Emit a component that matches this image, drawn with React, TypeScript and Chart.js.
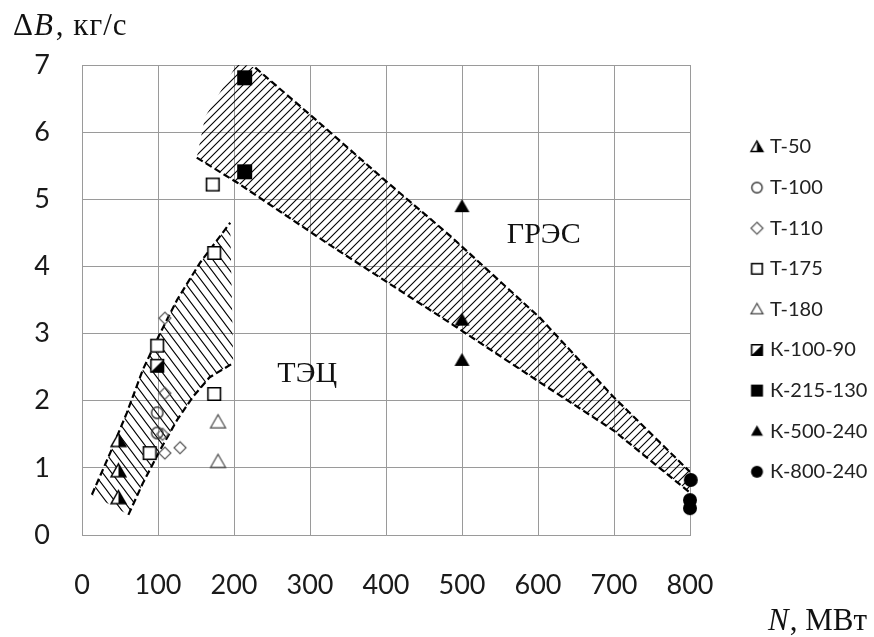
import React, { useEffect, useRef } from 'react';
import { Chart, registerables } from 'chart.js';

Chart.register(...registerables);

// ---- Series (N, МВт ; ΔB, кг/с) ----
const seriesNames = ['Т-50', 'Т-100', 'Т-110', 'Т-175', 'Т-180', 'К-100-90', 'К-215-130', 'К-500-240', 'К-800-240'];
const t50N = [48, 48, 48];
const t50B = [1.4, 0.95, 0.55];
const t100N = [99, 99];
const t100B = [1.82, 1.52];
const t110N = [109, 109, 106, 109, 129];
const t110B = [3.23, 2.11, 1.5, 1.22, 1.3];
const t175N = [172, 174, 174, 99, 89];
const t175B = [5.22, 4.2, 2.1, 2.82, 1.22];
const t180N = [179, 179];
const t180B = [1.68, 1.09];
const k100N = [99];
const k100B = [2.52];
const k215N = [214, 214];
const k215B = [6.81, 5.41];
const k500N = [500, 500, 500];
const k500B = [4.89, 3.2, 2.6];
const k800N = [801, 800, 800];
const k800B = [0.82, 0.52, 0.4];

// ---- Hatched zones ----
const tecOuterN = [13, 37, 59, 80, 103, 125, 155, 195];
const tecOuterB = [0.6, 1.22, 1.82, 2.46, 3.01, 3.5, 4.05, 4.65];
const tecInnerN = [61, 80, 103, 125, 146, 168, 199];
const tecInnerB = [0.3, 0.77, 1.27, 1.71, 2.06, 2.35, 2.56];
const gresLeftN = [151, 162, 205];
const gresLeftB = [5.62, 6.23, 7.03];
const gresUpperN = [228, 300, 401, 484, 603, 699, 800];
const gresUpperB = [6.96, 6.26, 5.26, 4.46, 3.23, 2.06, 0.94];
const gresLowerN = [151, 204, 326, 484, 603, 699, 800];
const gresLowerB = [5.62, 5.25, 4.32, 3.16, 2.27, 1.56, 0.63];

// ---- Labels ----
const gresLabel = 'ГРЭС';
const gresLabelN = 559;
const gresLabelB = 4.35;
const tecLabel = 'ТЭЦ';
const tecLabelN = 257;
const tecLabelB = 2.28;
const xTickStep = 100;
const yTickStep = 1;

const markerKinds = ['triHalf', 'circleOpen', 'diamond', 'squareOpen', 'triOpen', 'squareHalf', 'squareFill', 'triFill', 'circleFill'];
const markerSizes = [15, 13, 12, 14, 15, 14, 15, 15, 14];

const pts = (xs: number[], ys: number[]) => xs.map((x, i) => ({ x, y: ys[i] }));

function paintMarker(ctx: CanvasRenderingContext2D, kind: string, cx: number, cy: number, s: number) {
  const h = s / 2;
  ctx.lineJoin = 'miter';
  ctx.lineWidth = 1.4;
  ctx.strokeStyle = '#000';
  ctx.fillStyle = '#000';
  const triTop = cy - h;
  const triBot = cy + h * 0.74;
  const tri = () => {
    ctx.beginPath();
    ctx.moveTo(cx, triTop);
    ctx.lineTo(cx + h, triBot);
    ctx.lineTo(cx - h, triBot);
    ctx.closePath();
  };
  const sq = () => {
    ctx.beginPath();
    ctx.rect(cx - h + 0.7, cy - h + 0.7, s - 1.4, s - 1.4);
  };
  switch (kind) {
    case 'triHalf':
      tri();
      ctx.fillStyle = '#fff';
      ctx.fill();
      ctx.beginPath();
      ctx.moveTo(cx, triTop);
      ctx.lineTo(cx + h, triBot);
      ctx.lineTo(cx, triBot);
      ctx.closePath();
      ctx.fillStyle = '#000';
      ctx.fill();
      tri();
      ctx.stroke();
      break;
    case 'circleOpen':
      ctx.beginPath();
      ctx.arc(cx, cy, h - 0.8, 0, Math.PI * 2);
      ctx.strokeStyle = '#333';
      ctx.stroke();
      break;
    case 'diamond':
      ctx.beginPath();
      ctx.moveTo(cx, cy - h);
      ctx.lineTo(cx + h, cy);
      ctx.lineTo(cx, cy + h);
      ctx.lineTo(cx - h, cy);
      ctx.closePath();
      ctx.strokeStyle = '#555';
      ctx.lineWidth = 1.2;
      ctx.stroke();
      break;
    case 'squareOpen':
      sq();
      ctx.fillStyle = '#fff';
      ctx.fill();
      ctx.lineWidth = 1.6;
      ctx.stroke();
      break;
    case 'triOpen':
      tri();
      ctx.strokeStyle = '#444';
      ctx.lineWidth = 1.2;
      ctx.stroke();
      break;
    case 'squareHalf':
      sq();
      ctx.fillStyle = '#fff';
      ctx.fill();
      ctx.beginPath();
      ctx.moveTo(cx + h - 0.7, cy - h + 0.7);
      ctx.lineTo(cx + h - 0.7, cy + h - 0.7);
      ctx.lineTo(cx - h + 0.7, cy + h - 0.7);
      ctx.closePath();
      ctx.fillStyle = '#000';
      ctx.fill();
      sq();
      ctx.lineWidth = 1.6;
      ctx.stroke();
      break;
    case 'squareFill':
      ctx.fillRect(cx - h, cy - h, s, s);
      break;
    case 'triFill':
      tri();
      ctx.fill();
      break;
    case 'circleFill':
      ctx.beginPath();
      ctx.arc(cx, cy, h, 0, Math.PI * 2);
      ctx.fill();
      break;
  }
}

function makeMarker(kind: string, s: number, width?: number, offset = 0) {
  const c = document.createElement('canvas');
  const W = width ?? s + 4;
  const H = s + 4;
  c.width = W;
  c.height = H;
  const g = c.getContext('2d')!;
  paintMarker(g, kind, W / 2 + offset, H / 2, s);
  return c;
}

function makeHatch(ctx: CanvasRenderingContext2D, w: number, h: number, dir: string) {
  const c = document.createElement('canvas');
  c.width = w;
  c.height = h;
  const g = c.getContext('2d')!;
  g.strokeStyle = '#000';
  g.lineWidth = 1.1;
  g.beginPath();
  for (let k = -1; k <= 1; k++) {
    if (dir === '/') {
      g.moveTo(k * w - w, h + h);
      g.lineTo(k * w + 2 * w, h - 2 * h);
    } else {
      g.moveTo(k * w - w, -h);
      g.lineTo(k * w + 2 * w, 2 * h);
    }
  }
  g.stroke();
  return ctx.createPattern(c, 'repeat');
}

export default function App() {
  const ref = useRef<HTMLCanvasElement | null>(null);

  useEffect(() => {
    document.body.style.margin = '0';
    document.body.style.overflow = 'hidden';
    const canvas = ref.current!;
    const ctx = canvas.getContext('2d')!;

    const tecPattern = makeHatch(ctx, 9, 12, '\\');
    const gresPattern = makeHatch(ctx, 8, 8, '/');

    const seriesN = [t50N, t100N, t110N, t175N, t180N, k100N, k215N, k500N, k800N];
    const seriesB = [t50B, t100B, t110B, t175B, t180B, k100B, k215B, k500B, k800B];

    const pointSets = seriesNames.map((name, i) => ({
      label: name,
      data: pts(seriesN[i], seriesB[i]),
      pointStyle: makeMarker(markerKinds[i], markerSizes[i]),
      pointRadius: 8,
      pointHoverRadius: 8,
      showLine: false,
      clip: false as any,
      order: 0,
    }));

    const legendImgs = markerKinds.map((k) => makeMarker(k, 12, 64, 21.7));

    const tecPoly = [...pts(tecOuterN, tecOuterB), ...pts(tecInnerN, tecInnerB).reverse()];
    const gresPoly = [
      ...pts(gresLeftN, gresLeftB),
      ...pts(gresUpperN, gresUpperB),
      ...pts(gresLowerN, gresLowerB).reverse(),
    ];

    const band = (label: string, data: any[], pattern: any) => ({
      label,
      data,
      showLine: true,
      fill: 'shape',
      backgroundColor: pattern,
      borderColor: 'rgba(0,0,0,0)',
      borderWidth: 0,
      pointRadius: 0,
      pointHoverRadius: 0,
      tension: 0,
      order: 10,
    });
    const edge = (label: string, data: any[]) => ({
      label,
      data,
      showLine: true,
      fill: false,
      borderColor: '#000',
      borderWidth: 2.2,
      borderDash: [7, 3.5],
      pointRadius: 0,
      pointHoverRadius: 0,
      tension: 0,
      order: 5,
    });

    const textPlugin = {
      id: 'texts',
      afterDraw(chart: any) {
        const c = chart.ctx as CanvasRenderingContext2D;
        const x = chart.scales.x;
        const y = chart.scales.y;
        const serif = '"Liberation Serif", "Times New Roman", serif';
        c.save();
        c.fillStyle = '#111';
        c.textAlign = 'left';
        c.textBaseline = 'alphabetic';
        c.font = `30px ${serif}`;
        c.fillText(gresLabel, x.getPixelForValue(gresLabelN), y.getPixelForValue(gresLabelB));
        c.fillText(tecLabel, x.getPixelForValue(tecLabelN), y.getPixelForValue(tecLabelB));

        // y-axis title
        let px = 13;
        const yb = 35;
        c.font = `31px ${serif}`;
        c.fillText('Δ', px, yb);
        px += c.measureText('Δ').width + 1;
        c.font = `italic 31px ${serif}`;
        c.fillText('B', px, yb);
        px += c.measureText('B').width + 3;
        c.font = `31px ${serif}`;
        (c as any).letterSpacing = '1px';
        c.fillText(', кг/с', px, yb);
        (c as any).letterSpacing = '0px';

        // x-axis title
        px = 768;
        const xb = 630;
        c.font = `italic 31px ${serif}`;
        c.fillText('N', px, xb);
        px += c.measureText('N').width + 1;
        c.font = `31px ${serif}`;
        c.fillText(', МВт', px, xb);
        c.restore();
      },
    };

    const chart = new Chart(canvas, {
      type: 'scatter',
      data: {
        datasets: [
          band('tec', tecPoly, tecPattern),
          band('gres', gresPoly, gresPattern),
          edge('tecOuter', pts(tecOuterN, tecOuterB)),
          edge('tecInner', pts(tecInnerN, tecInnerB)),
          edge('gresUpper', pts(gresUpperN, gresUpperB)),
          edge('gresLower', pts(gresLowerN, gresLowerB)),
          ...pointSets,
        ] as any,
      },
      options: {
        animation: false,
        responsive: true,
        maintainAspectRatio: false,
        events: [],
        layout: { padding: { top: 65, right: 0, bottom: 0, left: 0 } },
        scales: {
          x: {
            type: 'linear',
            min: 0,
            max: 800,
            afterFit: (s: any) => {
              s.height = 102;
            },
            ticks: {
              stepSize: xTickStep,
              padding: 34,
              color: '#1a1a1a',
              font: { family: 'Lato', size: 27 },
            },
            grid: { color: '#9a9a9a', lineWidth: 1, drawTicks: false },
            border: { color: '#9a9a9a' },
          },
          y: {
            type: 'linear',
            min: 0,
            max: 7,
            afterFit: (s: any) => {
              s.width = 82;
            },
            ticks: {
              stepSize: yTickStep,
              padding: 32,
              color: '#1a1a1a',
              font: { family: 'Lato', size: 27 },
            },
            grid: { color: '#9a9a9a', lineWidth: 1, drawTicks: false },
            border: { color: '#9a9a9a' },
          },
        },
        plugins: {
          tooltip: { enabled: false },
          title: { display: false },
          legend: {
            display: true,
            position: 'right',
            align: 'start',
            fullSize: false,
            maxWidth: 184,
            title: { display: true, text: ' ', padding: { top: 37, bottom: 0 }, font: { size: 12 } },
            labels: {
              usePointStyle: true,
              pointStyleWidth: 49.4,
              padding: 20.6,
              color: '#222',
              font: { family: 'Lato', size: 20 },
              generateLabels: () =>
                seriesNames.map((name, i) => ({
                  text: name,
                  pointStyle: legendImgs[i],
                  fillStyle: 'rgba(0,0,0,0)',
                  strokeStyle: 'rgba(0,0,0,0)',
                  lineWidth: 0,
                  hidden: false,
                  datasetIndex: 6 + i,
                  fontColor: '#222',
                })) as any,
            },
          },
        },
      } as any,
      plugins: [textPlugin],
    });

    return () => chart.destroy();
  }, []);

  return (
    <div style={{ width: 874, height: 637, position: 'relative' }}>
      <canvas ref={ref} />
    </div>
  );
}
